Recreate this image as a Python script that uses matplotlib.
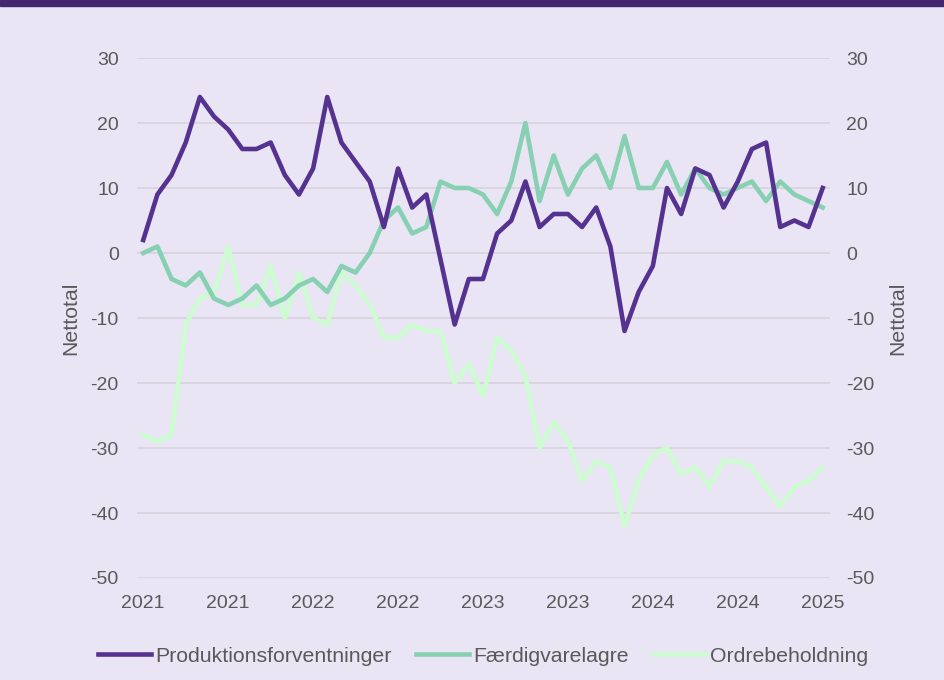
import numpy as np
import matplotlib.pyplot as plt
from matplotlib.patches import Rectangle

# monthly survey, Jan 2021 - Jan 2025
produktion = [2, 9, 12, 17, 24, 21, 19, 16, 16, 17, 12, 9,
              13, 24, 17, 14, 11, 4, 13, 7, 9, -1, -11, -4,
              -4, 3, 5, 11, 4, 6, 6, 4, 7, 1, -12, -6,
              -2, 10, 6, 13, 12, 7, 11, 16, 17, 4, 5, 4,
              10]
faerdigvare = [0, 1, -4, -5, -3, -7, -8, -7, -5, -8, -7, -5,
               -4, -6, -2, -3, 0, 5, 7, 3, 4, 11, 10, 10,
               9, 6, 11, 20, 8, 15, 9, 13, 15, 10, 18, 10,
               10, 14, 9, 13, 10, 9, 10, 11, 8, 11, 9, 8,
               7]
ordre = [-28, -29, -28, -11, -7, -6, 1, -8, -8, -2, -10, -3,
         -10, -11, -3, -5, -8, -13, -13, -11, -12, -12, -20, -17,
         -22, -13, -15, -19, -30, -26, -29, -35, -32, -33, -42, -35,
         -31, -30, -34, -33, -36, -32, -32, -33, -36, -39, -36, -35,
         -33]
tick_labels = ["2021", "2021", "2022", "2022", "2023", "2023", "2024", "2024", "2025"]

BG = "#E9E5F5"
TXT = "#595959"
plt.rcParams["font.family"] = ["Liberation Sans", "DejaVu Sans"]
plt.rcParams["axes.unicode_minus"] = False

x = np.arange(len(produktion))

fig = plt.figure(figsize=(9.44, 6.8), dpi=100, facecolor=BG)
ax = fig.add_axes([0.145, 0.15, 0.734, 0.7647])
ax.set_facecolor(BG)
fig.add_artist(Rectangle((0, 1 - 6 / 680), 1, 6 / 680, transform=fig.transFigure,
                         color="#44276F", zorder=5))

ax.plot(x, produktion, color="#55328F", lw=3.3, label="Produktionsforventninger", zorder=4)
ax.plot(x, faerdigvare, color="#88D0B2", lw=3.3, label="Færdigvarelagre", zorder=3)
ax.plot(x, ordre, color="#CCFCD0", lw=3.3, label="Ordrebeholdning", zorder=2)

ax.set_xlim(-0.45, 48.5)
ax.set_ylim(-50, 30)
ax.set_yticks(range(-50, 31, 10))
ax.set_xticks(range(0, 49, 6))
ax.set_xticklabels(tick_labels)
ax.grid(axis="y", color="#D9D5DD", lw=1.3)
ax.set_axisbelow(True)
for s in ax.spines.values():
    s.set_visible(False)
ax.tick_params(length=0, labelsize=14, colors=TXT, pad=13)
ax.tick_params(axis="x", pad=12)
ax.set_ylabel("Nettotal", fontsize=15.3, color=TXT, labelpad=7)

ax2 = ax.twinx()
ax2.set_ylim(-50, 30)
ax2.set_yticks(range(-50, 31, 10))
for s in ax2.spines.values():
    s.set_visible(False)
ax2.tick_params(length=0, labelsize=14, colors=TXT, pad=12)
ax2.set_ylabel("Nettotal", fontsize=15.3, color=TXT, labelpad=10)

ax.legend(loc="upper center", bbox_to_anchor=(0.5, -0.095), ncol=3, frameon=False,
          fontsize=15.3, labelcolor=TXT, handlelength=2.5, handletextpad=0.2,
          columnspacing=1.13)

plt.savefig("out.png", dpi=100, facecolor=BG)
